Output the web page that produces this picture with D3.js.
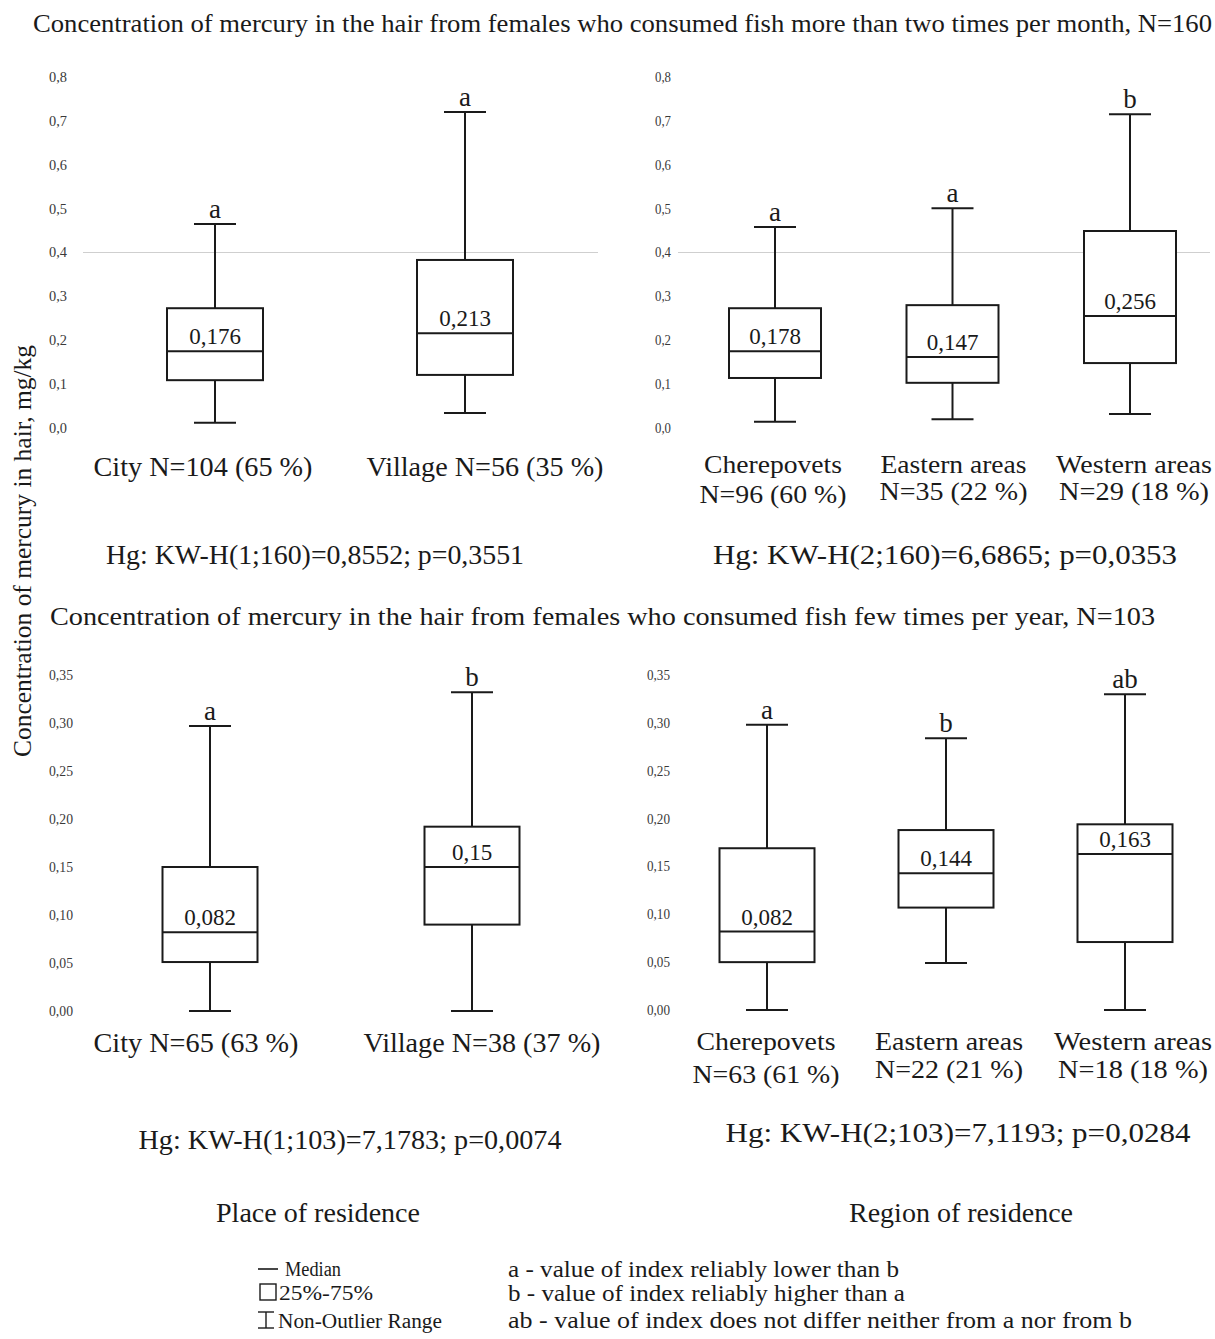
<!DOCTYPE html>
<html><head><meta charset="utf-8">
<script src="https://cdn.jsdelivr.net/npm/d3@7"></script>
<style>
html,body{margin:0;padding:0;background:#fff;}
svg{display:block;}
text{font-family:"Liberation Serif","Times New Roman",serif;fill:#1a1a1a;}
</style></head>
<body>
<svg id="chart" width="1215" height="1339"></svg>
<script>
// ---------- DATA ----------
const placeCatsTop = ["City", "Village"];
const placeTop = [
  {min:0.012, q1:0.109, med:0.175, q3:0.273, max:0.465},
  {min:0.034, q1:0.121, med:0.216, q3:0.383, max:0.720}
];
const placeTopMedLabels = ["0,176", "0,213"];
const placeTopLetters = ["a", "a"];
const placeTopCatLabels = [["City N=104 (65 %)"], ["Village N=56 (35 %)"]];

const regionCatsTop = ["Cherepovets", "Eastern areas", "Western areas"];
const regionTop = [
  {min:0.014, q1:0.114, med:0.175, q3:0.273, max:0.458},
  {min:0.020, q1:0.103, med:0.162, q3:0.280, max:0.501},
  {min:0.032, q1:0.148, med:0.255, q3:0.449, max:0.715}
];
const regionTopMedLabels = ["0,178", "0,147", "0,256"];
const regionTopLetters = ["a", "a", "b"];
const regionTopCatLabels = [["Cherepovets","N=96 (60 %)"], ["Eastern areas","N=35 (22 %)"], ["Western areas","N=29 (18 %)"]];

const placeCatsBot = ["City", "Village"];
const placeBot = [
  {min:0.000, q1:0.051, med:0.082, q3:0.150, max:0.297},
  {min:0.000, q1:0.090, med:0.150, q3:0.192, max:0.332}
];
const placeBotMedLabels = ["0,082", "0,15"];
const placeBotLetters = ["a", "b"];
const placeBotCatLabels = [["City N=65 (63 %)"], ["Village N=38 (37 %)"]];

const regionCatsBot = ["Cherepovets", "Eastern areas", "Western areas"];
const regionBot = [
  {min:0.000, q1:0.050, med:0.082, q3:0.169, max:0.298},
  {min:0.049, q1:0.107, med:0.143, q3:0.188, max:0.284},
  {min:0.000, q1:0.071, med:0.163, q3:0.194, max:0.330}
];
const regionBotMedLabels = ["0,082", "0,144", "0,163"];
const regionBotLetters = ["a", "b", "ab"];
const regionBotCatLabels = [["Cherepovets","N=63 (61 %)"], ["Eastern areas","N=22 (21 %)"], ["Western areas","N=18 (18 %)"]];

const ticksTop = [0,0.1,0.2,0.3,0.4,0.5,0.6,0.7,0.8];
const ticksTopLabels = ["0,0","0,1","0,2","0,3","0,4","0,5","0,6","0,7","0,8"];
const ticksBot = [0,0.05,0.10,0.15,0.20,0.25,0.30,0.35];
const ticksBotLabels = ["0,00","0,05","0,10","0,15","0,20","0,25","0,30","0,35"];

const title1 = "Concentration of mercury in the hair from females who consumed fish more than two times per month, N=160";
const title2 = "Concentration of mercury in the hair from females who consumed fish few times per year,  N=103";
const yTitle = "Concentration of mercury in hair, mg/kg";
const statsTexts = ["Hg: KW-H(1;160)=0,8552; p=0,3551", "Hg: KW-H(2;160)=6,6865; p=0,0353",
                    "Hg: KW-H(1;103)=7,1783; p=0,0074", "Hg: KW-H(2;103)=7,1193; p=0,0284"];
const groupTitles = ["Place of residence", "Region of residence"];
const legendLeft = ["Median", "25%-75%", "Non-Outlier Range"];
const legendRight = ["a - value of index reliably lower than b",
                     "b - value of index reliably higher than a",
                     "ab - value of index does not differ neither from a nor from b"];

// ---------- DRAW ----------
const svg = d3.select("#chart");
const INK = "#1a1a1a";

function txt(g, s, x, y, o = {}) {
  const t = g.append("text").attr("x", x).attr("y", y).text(s)
    .attr("font-size", o.size || 22)
    .attr("text-anchor", o.anchor || "start");
  if (o.fill) t.style("fill", o.fill);
  if (o.width) t.attr("textLength", o.width).attr("lengthAdjust", "spacingAndGlyphs");
  if (o.transform) t.attr("transform", o.transform);
  return t;
}

function panel(cfg) {
  const g = svg.append("g");
  const y = d3.scaleLinear().domain(cfg.domain).range(cfg.yRange);
  const x = d3.scaleBand().domain(cfg.cats).range(cfg.xRange);
  const cx = c => x(c) + x.bandwidth() / 2;

  const ax = d3.axisLeft(y).tickValues(cfg.ticks).tickSize(0)
    .tickFormat((d, i) => cfg.tickLabels[i]);
  const axG = g.append("g").attr("transform", `translate(${cfg.tickX},0)`).call(ax);
  axG.select(".domain").remove();
  axG.selectAll("text").attr("text-anchor", "start").attr("x", 0)
    .attr("dy", "0.32em")
    .style("font-family", '"Liberation Serif",serif')
    .style("font-size", "14px").style("fill", "#3a3a3a")
    .attr("textLength", cfg.tickW).attr("lengthAdjust", "spacingAndGlyphs");

  if (cfg.refLine != null) {
    g.append("line").attr("x1", cfg.refX[0]).attr("x2", cfg.refX[1])
      .attr("y1", y(cfg.refLine)).attr("y2", y(cfg.refLine))
      .attr("stroke", "#cfcfcf").attr("stroke-width", 1);
  }

  const bw = cfg.boxW, cap = 42;
  cfg.data.forEach((d, i) => {
    const c = cx(cfg.cats[i]);
    g.append("line").attr("x1", c).attr("x2", c).attr("y1", y(d.max)).attr("y2", y(d.min))
      .attr("stroke", INK).attr("stroke-width", 2);
    [d.max, d.min].forEach(v => g.append("line")
      .attr("x1", c - cap / 2).attr("x2", c + cap / 2).attr("y1", y(v)).attr("y2", y(v))
      .attr("stroke", INK).attr("stroke-width", 2));
    g.append("rect").attr("x", c - bw / 2).attr("width", bw)
      .attr("y", y(d.q3)).attr("height", y(d.q1) - y(d.q3))
      .attr("fill", "#fff").attr("stroke", INK).attr("stroke-width", 2);
    g.append("line").attr("x1", c - bw / 2).attr("x2", c + bw / 2)
      .attr("y1", y(d.med)).attr("y2", y(d.med)).attr("stroke", INK).attr("stroke-width", 2);
    txt(g, cfg.medLabels[i], c, y(d.med) - 7, {size: 23, anchor: "middle"});
    txt(g, cfg.letters[i], c, y(d.max) - 6, {size: 27, anchor: "middle"});
    cfg.catLabels[i].forEach((s, k) => {
      txt(g, s, c + (cfg.catDx ? cfg.catDx[i] : 0), cfg.catY[k] + (k > 0 && cfg.catY2 ? cfg.catY2[i] : 0),
          {size: cfg.catSize || 27, anchor: "middle", width: cfg.catW ? cfg.catW[i][k] : null});
    });
  });
  return g;
}

// Titles
txt(svg, title1, 33, 32, {size: 25, width: 1179});
txt(svg, title2, 50, 625, {size: 25, width: 1105});
txt(svg, yTitle, 0, 0, {size: 25, anchor: "middle", width: 412,
   transform: "translate(31,551) rotate(-90)"});

panel({domain:[0,0.8], yRange:[428,77], cats:placeCatsTop, xRange:[90,590], data:placeTop,
  ticks:ticksTop, tickLabels:ticksTopLabels, tickX:49, tickW:18, refLine:0.4, refX:[83,598],
  boxW:96, medLabels:placeTopMedLabels, letters:placeTopLetters, catLabels:placeTopCatLabels,
  catY:[476], catDx:[-12, 20], catW:[[219],[237]]});

panel({domain:[0,0.8], yRange:[428,77], cats:regionCatsTop, xRange:[686.25,1218.75], data:regionTop,
  ticks:ticksTop, tickLabels:ticksTopLabels, tickX:655, tickW:16, refLine:0.4, refX:[678,1210],
  boxW:92, medLabels:regionTopMedLabels, letters:regionTopLetters, catLabels:regionTopCatLabels,
  catSize:25, catY:[473, 503], catY2:[0,-3,-3], catDx:[-2, 1, 4],
  catW:[[138,147],[146,148],[156,150]]});

panel({domain:[0,0.35], yRange:[1011,675], cats:placeCatsBot, xRange:[79,603], data:placeBot,
  ticks:ticksBot, tickLabels:ticksBotLabels, tickX:49, tickW:24, refLine:null,
  boxW:95, medLabels:placeBotMedLabels, letters:placeBotLetters, catLabels:placeBotCatLabels,
  catY:[1052], catDx:[-14, 10], catW:[[205],[237]]});

panel({domain:[0,0.35], yRange:[1010,675], cats:regionCatsBot, xRange:[677.5,1214.5], data:regionBot,
  ticks:ticksBot, tickLabels:ticksBotLabels, tickX:647, tickW:23, refLine:null,
  boxW:95, medLabels:regionBotMedLabels, letters:regionBotLetters, catLabels:regionBotCatLabels,
  catSize:25, catY:[1050, 1083], catY2:[0,-5,-5], catDx:[-1, 3, 8],
  catW:[[139,147],[148,148],[158,150]]});

// Stats
txt(svg, statsTexts[0], 315, 564, {size: 27, anchor: "middle", width: 418});
txt(svg, statsTexts[1], 945, 564, {size: 27, anchor: "middle", width: 464});
txt(svg, statsTexts[2], 350, 1149, {size: 27, anchor: "middle", width: 423});
txt(svg, statsTexts[3], 958, 1142, {size: 27, anchor: "middle", width: 465});

// Group titles
txt(svg, groupTitles[0], 318, 1222, {size: 27, anchor: "middle", width: 204});
txt(svg, groupTitles[1], 961, 1222, {size: 27, anchor: "middle", width: 224});

// Legend
const lg = svg.append("g");
lg.append("line").attr("x1", 258).attr("x2", 278).attr("y1", 1269).attr("y2", 1269)
  .attr("stroke", INK).attr("stroke-width", 1.6);
lg.append("rect").attr("x", 260).attr("y", 1284).attr("width", 16).attr("height", 16)
  .attr("fill", "none").attr("stroke", INK).attr("stroke-width", 1.4);
lg.append("line").attr("x1", 266).attr("x2", 266).attr("y1", 1312).attr("y2", 1328).attr("stroke", INK).attr("stroke-width", 1.4);
lg.append("line").attr("x1", 258).attr("x2", 274).attr("y1", 1312).attr("y2", 1312).attr("stroke", INK).attr("stroke-width", 1.4);
lg.append("line").attr("x1", 258).attr("x2", 274).attr("y1", 1328).attr("y2", 1328).attr("stroke", INK).attr("stroke-width", 1.4);
const llX = [285, 279, 278], llY = [1276, 1300, 1328], llW = [56, 94, 164];
legendLeft.forEach((s, i) => txt(lg, s, llX[i], llY[i], {size: 20, width: llW[i]}));
const lrY = [1277, 1301, 1328], lrW = [391, 397, 624];
legendRight.forEach((s, i) => txt(lg, s, 508, lrY[i], {size: 23, width: lrW[i]}));
</script>
</body></html>
